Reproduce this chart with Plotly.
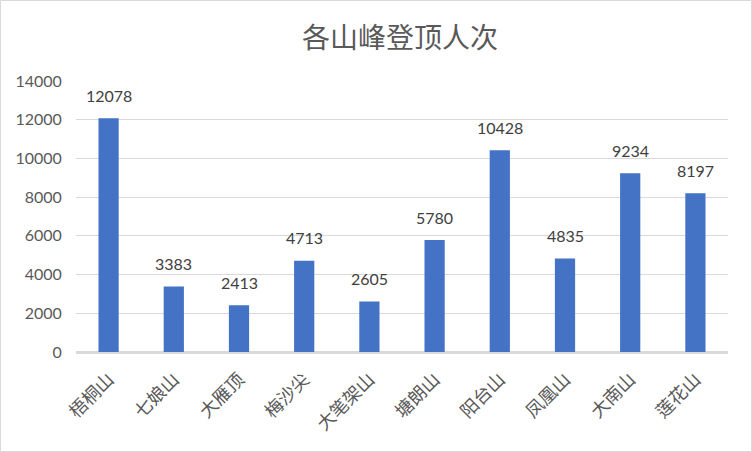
import plotly.graph_objects as go

categories = ["梧桐山", "七娘山", "大雁顶", "梅沙尖", "大笔架山", "塘朗山", "阳台山", "凤凰山", "大南山", "莲花山"]
values = [12078, 3383, 2413, 4713, 2605, 5780, 10428, 4835, 9234, 8197]
y_ticks = [0, 2000, 4000, 6000, 8000, 10000, 12000, 14000]

W, H = 752, 452
L, R, T, B = 76, 24, 81, 100
pw, ph = W - L - R, H - T - B

fig = go.Figure(go.Bar(
    x=categories, y=values,
    marker=dict(color="#4472C4", line=dict(width=0)),
    cliponaxis=False,
))

annotations = [
    dict(x=c, y=v, text=str(v), showarrow=False, yanchor="middle", yshift=23,
         font=dict(family="Lato, Liberation Sans, sans-serif", size=16, color="#404040"))
    for c, v in zip(categories, values)
]

fig.update_layout(
    width=W, height=H,
    margin=dict(l=L, r=R, t=T, b=B),
    paper_bgcolor="white", plot_bgcolor="white",
    bargap=0.69,
    showlegend=False,
    annotations=annotations,
    title=dict(text="各山峰登顶人次", x=400 / W, xanchor="center", y=1 - 38 / H, yanchor="middle",
               font=dict(family="Noto Sans CJK SC, sans-serif", size=28, color="#595959")),
    xaxis=dict(tickangle=-45, tickfont=dict(family="Noto Sans CJK SC, sans-serif", size=18, color="#595959"),
               showline=True, linecolor="#D9D9D9", linewidth=1.5, ticks="outside", ticklen=8,
               tickcolor="white", showgrid=False),
    yaxis=dict(range=[0, 14000], tickvals=y_ticks, ticktext=[str(v) for v in y_ticks],
               showgrid=True, gridcolor="#D9D9D9", gridwidth=1,
               zeroline=True, zerolinecolor="#D9D9D9", zerolinewidth=1.5,
               tickfont=dict(family="Lato, Liberation Sans, sans-serif", size=16, color="#595959"),
               ticks="outside", ticklen=10, tickcolor="white", showline=False),
    shapes=[dict(type="rect", xref="paper", yref="paper",
                 x0=(0.5 - L) / pw, x1=(W - 0.5 - L) / pw,
                 y0=-(H - 0.5 - T - ph) / ph, y1=1 + (T - 0.5) / ph,
                 line=dict(color="#D9D9D9", width=1), layer="below")],
)

fig.write_html("out.html")
